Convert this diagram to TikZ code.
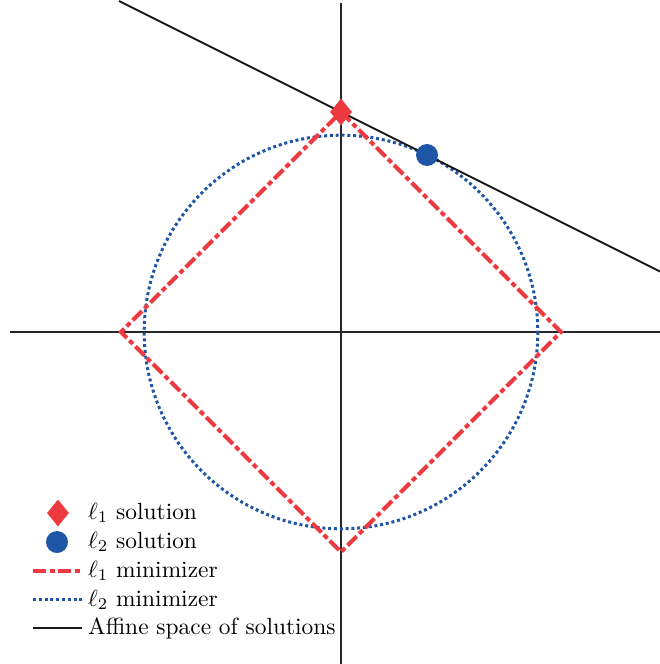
\documentclass[tikz,border=0pt]{standalone}
\usepackage{amsmath,graphicx}
\usetikzlibrary{shapes.geometric}
\definecolor{lred}{RGB}{236,58,64}
\definecolor{lblue}{RGB}{30,85,165}
\newcommand{\legscale}[1]{\scalebox{2.34}{\fontsize{10}{12}\selectfont #1}}
\begin{document}
\begin{tikzpicture}[x=1pt,y=-1pt,
  axis/.style={black!85,line width=1.1pt},
  affine/.style={black!90,line width=2pt},
  lone/.style={lred,line width=4pt,dash pattern=on 13pt off 3.5pt on 5pt off 3.5pt},
  ltwo/.style={lblue,line width=3pt,dash pattern=on 3pt off 2.8pt},
  legtext/.style={anchor=base west,inner sep=0pt},
  dmark/.style={diamond,fill=lred,minimum width=22pt,minimum height=27pt,inner sep=0pt,aspect=0.8},
  cmark/.style={circle,fill=lblue,minimum size=22pt,inner sep=0pt}]
\useasboundingbox (0,0) rectangle (660,664);
% axes
\coordinate (vt) at (341,3);
\coordinate (vb) at (341,664);
\coordinate (hl) at (10,332);
\coordinate (hr) at (660,332);
\draw[axis] (vt) -- (vb);
\draw[axis] (hl) -- (hr);
% l2 ball
\coordinate (o) at (341,332);
\draw[ltwo] (o) circle[radius=196.8];
% l1 ball
\coordinate (dt) at (341,112);
\coordinate (dr) at (561,332);
\coordinate (db) at (341,552);
\coordinate (dl) at (121,332);
\draw[lone] (dt) -- (dr) -- (db) -- (dl) -- cycle;
% affine line
\coordinate (a1) at (119,1);
\coordinate (a2) at (660,271.5);
\draw[affine] (a1) -- (a2);
% solutions
\node[dmark] (s1) at (341,112) {};
\node[cmark] (s2) at (427,155) {};
% legend
\node[dmark] (k1) at (58,513) {};
\node[legtext] (t1) at (88,519) {\legscale{$\ell_1$ solution}};
\node[cmark] (k2) at (57,542) {};
\node[legtext] (t2) at (88,548) {\legscale{$\ell_2$ solution}};
\coordinate (r1) at (33,571); \coordinate (r2) at (82,571);
\draw[lone] (r1) -- (r2);
\node[legtext] (t3) at (88,577) {\legscale{$\ell_1$ minimizer}};
\coordinate (b1) at (33,599); \coordinate (b2) at (82,599);
\draw[ltwo] (b1) -- (b2);
\node[legtext] (t4) at (88,606) {\legscale{$\ell_2$ minimizer}};
\coordinate (k1a) at (33,628); \coordinate (k1b) at (82,628);
\draw[affine] (k1a) -- (k1b);
\node[legtext] (t5) at (88,634) {\legscale{Affine space of solutions}};
\end{tikzpicture}
\end{document}
